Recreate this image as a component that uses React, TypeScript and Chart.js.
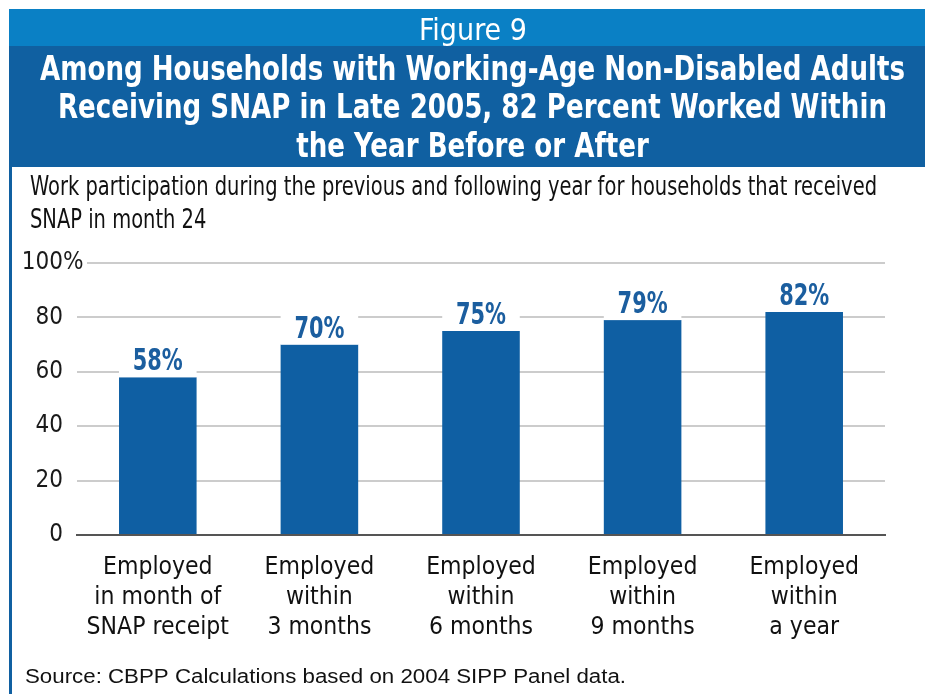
import React, { useEffect, useRef } from "react";
import { Chart, registerables } from "chart.js";

Chart.register(...registerables);

// ---- data ----
const categories: string[][] = [
  ["Employed", "in month of", "SNAP receipt"],
  ["Employed", "within", "3 months"],
  ["Employed", "within", "6 months"],
  ["Employed", "within", "9 months"],
  ["Employed", "within", "a year"],
];
const workedShare: number[] = [58, 70, 75, 79, 82];
const yTicks: number[] = [0, 20, 40, 60, 80, 100];
const figureLabel = "Figure 9";
const titleLines: string[] = [
  "Among Households with Working-Age Non-Disabled Adults",
  "Receiving SNAP in Late 2005, 82 Percent Worked Within",
  "the Year Before or After",
];
const subtitleLines: string[] = [
  "Work participation during the previous and following year for households that received",
  "SNAP in month 24",
];
const sourceNote = "Source: CBPP Calculations based on 2004 SIPP Panel data.";

// ---- styles ----
const NARROW = "'Liberation Sans Narrow', 'DejaVu Sans Condensed', 'Liberation Sans', sans-serif";
const SANS = "'Liberation Sans', Arial, sans-serif";
const LIGHT_BLUE = "#0A80C5";
const DARK_BLUE = "#1060A1";
const BAR_BLUE = "#0F5FA3";
const LABEL_BLUE = "#1B5E9F";

function drawScaled(ctx: CanvasRenderingContext2D, text: string, x: number, y: number, sx: number, align: CanvasTextAlign) {
  ctx.save();
  ctx.translate(x, y);
  ctx.scale(sx, 1);
  ctx.textAlign = align;
  ctx.textBaseline = "alphabetic";
  ctx.fillText(text, 0, 0);
  ctx.restore();
}

const framePlugin = {
  id: "frame",
  beforeDraw(chart: any) {
    const ctx: CanvasRenderingContext2D = chart.ctx;
    ctx.save();
    ctx.fillStyle = "#ffffff";
    ctx.fillRect(0, 0, chart.width, chart.height);
    ctx.fillStyle = LIGHT_BLUE;
    ctx.fillRect(9, 9, chart.width - 9, 37);
    ctx.fillStyle = DARK_BLUE;
    ctx.fillRect(9, 46, chart.width - 9, 121);
    ctx.fillRect(9, 167, 3, chart.height - 167);

    // Figure label
    ctx.fillStyle = "#ffffff";
    ctx.font = `30px ${NARROW}`;
    let w = ctx.measureText(figureLabel).width;
    drawScaled(ctx, figureLabel, 473, 40, 108 / w, "center");

    // Title
    ctx.font = `bold 34px ${NARROW}`;
    w = ctx.measureText(titleLines[0]).width;
    const tsx = 865 / w;
    const tBase = [80, 118, 157];
    titleLines.forEach((t, i) => drawScaled(ctx, t, 472.5, tBase[i], tsx, "center"));

    // Subtitle
    ctx.fillStyle = "#111111";
    ctx.font = `27px ${NARROW}`;
    w = ctx.measureText(subtitleLines[0]).width;
    const ssx = 847 / w;
    const sBase = [195, 228];
    subtitleLines.forEach((t, i) => drawScaled(ctx, t, 30, sBase[i], ssx, "left"));

    // Source
    ctx.fillStyle = "#111111";
    ctx.font = `20px ${SANS}`;
    w = ctx.measureText(sourceNote).width;
    drawScaled(ctx, sourceNote, 25, 683, 601 / w, "left");
    ctx.restore();
  },
  afterDatasetsDraw(chart: any) {
    const ctx: CanvasRenderingContext2D = chart.ctx;
    const meta = chart.getDatasetMeta(0);
    ctx.save();
    ctx.font = `bold 30px ${NARROW}`;
    const lw = ctx.measureText("58%").width;
    const lsx = 50 / lw;
    meta.data.forEach((bar: any, i: number) => {
      const half = bar.width / 2;
      ctx.fillStyle = "#ffffff";
      ctx.fillRect(bar.x - half, bar.y - 34, bar.width, 34);
      ctx.fillStyle = LABEL_BLUE;
      drawScaled(ctx, `${workedShare[i]}%`, bar.x, bar.y - 7, lsx, "center");
    });
    ctx.restore();
  },
  afterDraw(chart: any) {
    const ctx: CanvasRenderingContext2D = chart.ctx;
    const yScale = chart.scales.y;
    const top = yScale.getPixelForValue(yTicks[yTicks.length - 1]);
    const x = chart.chartArea.left - 14;
    ctx.save();
    ctx.fillStyle = "#ffffff";
    ctx.fillRect(x, top - 3, chart.chartArea.left + 10 - x, 6);
    ctx.fillStyle = "#1a1a1a";
    ctx.font = `24px ${NARROW}`;
    ctx.textAlign = "left";
    ctx.textBaseline = "middle";
    ctx.fillText("%", x, top);
    ctx.restore();
  },
};

export default function App() {
  const ref = useRef<HTMLCanvasElement | null>(null);
  useEffect(() => {
    if (!ref.current) return;
    const chart = new Chart(ref.current, {
      type: "bar",
      data: {
        labels: categories,
        datasets: [
          {
            data: workedShare,
            backgroundColor: BAR_BLUE,
            barPercentage: 0.48,
            categoryPercentage: 1,
          },
        ],
      },
      options: {
        animation: false,
        responsive: false,
        devicePixelRatio: 1,
        layout: { padding: { top: 263, left: 9, right: 40, bottom: 0 } },
        plugins: { legend: { display: false }, tooltip: { enabled: false } },
        scales: {
          x: {
            grid: { display: false, drawTicks: false },
            border: { display: true, color: "#555555", width: 2 },
            ticks: {
              color: "#111111",
              font: { family: NARROW, size: 24.5, lineHeight: 1.22 },
              padding: 18,
              maxRotation: 0,
              autoSkip: false,
            },
            afterFit: (s: any) => {
              s.height = 159;
            },
          },
          y: {
            min: 0,
            max: 100,
            afterBuildTicks: (s: any) => {
              s.ticks = yTicks.map((v) => ({ value: v }));
            },
            grid: { color: "#cccccc", lineWidth: 2, drawTicks: false },
            border: { display: false },
            ticks: {
              color: "#1a1a1a",
              font: { family: NARROW, size: 24 },
              padding: 14,
              callback: (v: any) => String(v),
            },
            afterFit: (s: any) => {
              s.width = 68;
            },
          },
        },
      },
      plugins: [framePlugin],
    });
    return () => chart.destroy();
  }, []);
  return (
    <div style={{ position: "absolute", left: 0, top: 0, width: 925, height: 694 }}>
      <canvas ref={ref} width={925} height={694} />
    </div>
  );
}
